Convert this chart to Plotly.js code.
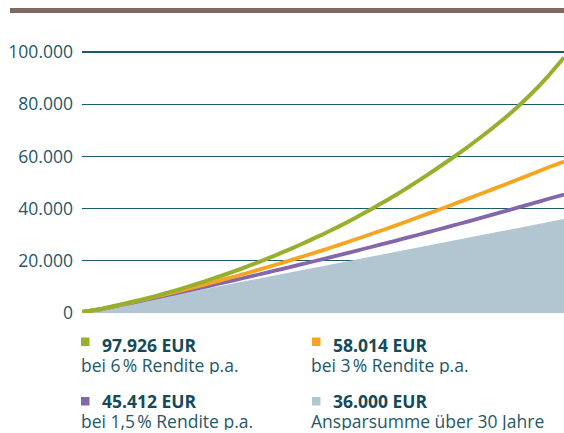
<!DOCTYPE html>
<html>
<head>
<meta charset="utf-8">
<script src="https://cdn.plot.ly/plotly-3.0.1.min.js"></script>
<style>html,body{margin:0;padding:0;background:#fff;}#chart{width:564px;height:433px;}</style>
</head>
<body>
<div id="chart"></div>
<script>
// Years (0 = start, 30 = end of saving period)
const years = [0,1,2,3,4,5,6,7,8,9,10,11,12,13,14,15,16,17,18,19,20,21,22,23,24,25,26,27,28,29,30];
// Saved amount (EUR) – 6 % return
const rendite6 = [500,1320,2700,4100,5600,7200,8950,10850,12850,14950,17150,19500,22000,24600,27350,30200,33200,36400,39800,43300,47000,50900,55000,59200,63600,68200,73100,78400,84200,90700,97926];
// 3 % return
const rendite3 = [400,1300,2650,4000,5400,6850,8350,9900,11500,13150,14850,16600,18400,20250,22150,24100,26100,28150,30250,32400,34600,36850,39120,41420,43740,46090,48460,50860,53280,55720,58014];
// 1,5 % return
const rendite15 = [300,1250,2518,3805,5110,6433,7774,9134,10512,11908,13323,14755,16206,17676,19163,20669,22194,23736,25297,26876,28473,30089,31723,33375,35045,36734,38441,40166,41910,43672,45412];
// Paid-in sum (100 EUR per month)
const ansparsumme = [0,1200,2400,3600,4800,6000,7200,8400,9600,10800,12000,13200,14400,15600,16800,18000,19200,20400,21600,22800,24000,25200,26400,27600,28800,30000,31200,32400,33600,34800,36000];

const yTicks = [0,20000,40000,60000,80000,100000];

const legendValues = ['97.926 EUR','58.014 EUR','45.412 EUR','36.000 EUR'];
const legendTexts = ['bei 6\u202f% Rendite p.a.','bei 3\u202f% Rendite p.a.','bei 1,5\u202f% Rendite p.a.','Ansparsumme über 30 Jahre'];
const legendColors = ['#97b02c','#f7a520','#8366ab','#b1c6d0'];

const C = {green:'#97b02c', orange:'#f7a520', purple:'#8366ab', area:'#b1c6d0', text:'#1f5868', bold:'#144a5a', grid:'#1d5a6a'};

// pixel helpers for layout elements
const L = 82, R = 564, T = 39, B = 313;
const px = x => (x - L) / (R - L);
const py = y => (B - y) / (B - T);

const traces = [
  {x: years, y: ansparsumme, type:'scatter', mode:'lines', fill:'tozeroy', fillcolor:C.area, line:{width:0, color:C.area}, hoverinfo:'skip'},
  {x: years, y: rendite15, type:'scatter', mode:'lines', line:{color:C.purple, width:3.8, shape:'spline', smoothing:0.6}},
  {x: years, y: rendite3, type:'scatter', mode:'lines', line:{color:C.orange, width:3.8, shape:'spline', smoothing:0.6}},
  {x: years, y: rendite6, type:'scatter', mode:'lines', line:{color:C.green, width:4, shape:'spline', smoothing:0.6}}
];

const shapes = [
  {type:'rect', xref:'paper', yref:'paper', x0:px(10), x1:px(564), y0:py(13), y1:py(8), fillcolor:'#7b6a63', line:{width:0}},
  {type:'line', xref:'paper', yref:'y', x0:0, x1:1, y0:0, y1:0, line:{color:'#7195a0', width:2}, layer:'below'}
];
const annotations = [];
const cols = [[81,102,81],[312,333,311]];
const rows = [[337.5,345,365],[397,401.2,420.5]];
for (let i = 0; i < 4; i++) {
  const c = cols[i % 2], r = rows[Math.floor(i / 2)];
  shapes.push({type:'rect', xref:'paper', yref:'paper', x0:px(c[0]), x1:px(c[0]+8.5), y0:py(r[0]+8.5), y1:py(r[0]), fillcolor:legendColors[i], line:{width:0}});
  annotations.push({xref:'paper', yref:'paper', x:px(c[1]-2), y:py(r[1]), xanchor:'left', yanchor:'middle', showarrow:false,
    height:18, valign:'middle',
    text:'<b>'+legendValues[i]+'</b>', font:{family:'Open Sans, sans-serif', size:17.5, color:C.bold}});
  annotations.push({xref:'paper', yref:'paper', x:px(c[2]-2), y:py(r[2]), xanchor:'left', yanchor:'middle', showarrow:false,
    height:18, valign:'middle',
    text:legendTexts[i], font:{family:'Open Sans, sans-serif', size:17.5, color:C.text}});
}

const layout = {
  width:564, height:433,
  margin:{l:L, r:564-R, t:T, b:433-B, pad:0},
  paper_bgcolor:'#fff', plot_bgcolor:'#fff',
  showlegend:false,
  separators:',.',
  font:{family:'Open Sans, sans-serif', color:C.text},
  xaxis:{range:[0,30], showgrid:false, zeroline:false, showline:false, showticklabels:false, ticks:'', fixedrange:true},
  yaxis:{range:[0,105000], tickvals:yTicks, tickformat:',d', showgrid:true, gridcolor:C.grid, gridwidth:1.2,
         zeroline:false, showline:false, ticks:'', ticklabelstandoff:8,
         tickfont:{family:'Open Sans, sans-serif', size:17.5, color:C.text}, fixedrange:true},
  shapes:shapes,
  annotations:annotations
};

Plotly.newPlot('chart', traces, layout, {displayModeBar:false, staticPlot:true});
</script>
</body>
</html>
